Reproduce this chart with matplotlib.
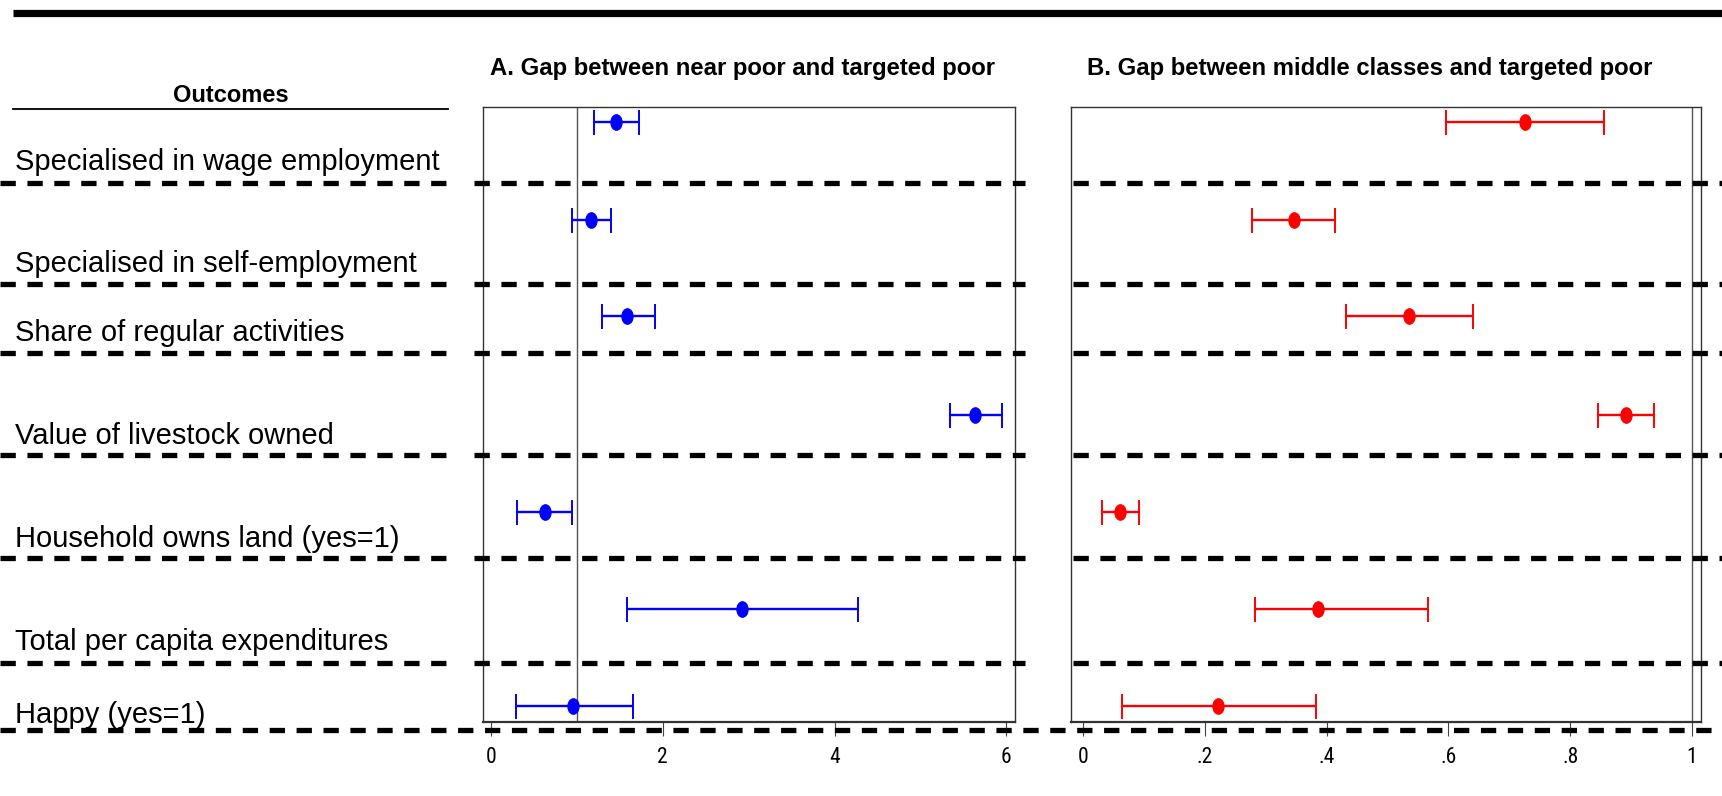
import numpy as np
import matplotlib
matplotlib.use("Agg")
import matplotlib.pyplot as plt
from matplotlib.path import Path
from matplotlib.transforms import Affine2D
from matplotlib import font_manager

plt.rcParams['font.family'] = ['Liberation Sans', 'DejaVu Sans']

outcomes = ["Specialised in wage employment",
            "Specialised in self-employment",
            "Share of regular activities",
            "Value of livestock owned",
            "Household owns land (yes=1)",
            "Total per capita expenditures",
            "Happy (yes=1)"]

# A: near poor vs targeted poor
near_est = [1.46, 1.17, 1.59, 5.64, 0.63, 2.92, 0.96]
near_lo = [1.20, 0.94, 1.30, 5.34, 0.30, 1.58, 0.29]
near_hi = [1.73, 1.40, 1.91, 5.95, 0.95, 4.27, 1.65]

# B: middle classes vs targeted poor
mid_est = [0.726, 0.346, 0.535, 0.892, 0.061, 0.386, 0.222]
mid_lo = [0.596, 0.277, 0.432, 0.845, 0.031, 0.283, 0.063]
mid_hi = [0.856, 0.414, 0.640, 0.937, 0.092, 0.566, 0.382]

ticks_a = [0, 2, 4, 6]
ticklabels_a = ["0", "2", "4", "6"]
ticks_b = [0, 0.2, 0.4, 0.6, 0.8, 1]
ticklabels_b = ["0", ".2", ".4", ".6", ".8", "1"]

# layout, in figure pixels (top = 0)
W, H = 1722, 796
row_y = [122, 220, 316, 415, 512, 609, 706]
label_y = [162, 264, 333, 436, 539, 642, 715]
sep_y = [183, 284, 352.5, 454.6, 558, 663]
bottom_y = 730
box_top, box_bot = 106.5, 722

fig = plt.figure(figsize=(W / 100, H / 100), dpi=100)

bg = fig.add_axes([0, 0, 1, 1])
bg.set_xlim(0, W)
bg.set_ylim(H, 0)
bg.axis('off')


def panel(x0, x1):
    return fig.add_axes([x0 / W, 1 - box_bot / H, (x1 - x0) / W, (box_bot - box_top) / H])


# vertical ellipse marker
ell = Path.unit_circle().transformed(Affine2D().scale(0.72, 1.0))

# condensed face for the axis numbers if one is around
names = {f.name for f in font_manager.fontManager.ttflist}
narrow = [n for n in ['Liberation Sans Narrow', 'Roboto Condensed', 'Open Sans Condensed']
          if n in names] + ['Liberation Sans', 'DejaVu Sans']


def draw_panel(ax, est, lo, hi, color, xlim, ticks, labels):
    est = np.array(est)
    err = [est - np.array(lo), np.array(hi) - est]
    ax.errorbar(est, row_y, xerr=err, fmt='none', ecolor=color, elinewidth=1.7,
                capsize=9, capthick=1.4, zorder=3)
    ax.plot(est, row_y, ls='none', marker=ell, ms=11, color=color, zorder=4)
    ax.axvline(1, color='#555555', lw=1.0, zorder=2)
    ax.set_xlim(*xlim)
    ax.set_ylim(box_bot, box_top)
    ax.set_yticks([])
    ax.set_xticks(ticks)
    ax.set_xticklabels(labels, family=narrow, fontsize=15.5)
    ax.tick_params(axis='x', direction='out', length=10, width=0.8, pad=8, color='#444444')
    for s in ax.spines.values():
        s.set_linewidth(1.0)
        s.set_color('#333333')
    ax.spines['bottom'].set_linewidth(1.6)


axA = panel(483, 1015)
draw_panel(axA, near_est, near_lo, near_hi, '#0000ff', (-0.09, 6.1), ticks_a, ticklabels_a)
axB = panel(1071, 1701)
draw_panel(axB, mid_est, mid_lo, mid_hi, '#ff0000', (-0.02, 1.015), ticks_b, ticklabels_b)

# headers
bg.plot([13, W], [13, 13], color='black', lw=5.2, solid_capstyle='butt')
bg.text(231, 96, "Outcomes", ha='center', va='center', fontsize=17, fontweight='bold')
bg.plot([13, 448], [109, 109], color='black', lw=1.3)
bg.text(743, 69, "A. Gap between near poor and targeted poor", ha='center', va='center',
        fontsize=17.2, fontweight='bold')
bg.text(1370, 69, "B. Gap between middle classes and targeted poor", ha='center', va='center',
        fontsize=17.2, fontweight='bold')

for name, y in zip(outcomes, label_y):
    bg.text(15, y, name, ha='left', va='center', fontsize=21)

# dashed row separators drawn over everything
ov = fig.add_axes([0, 0, 1, 1], zorder=10)
ov.set_xlim(0, W)
ov.set_ylim(H, 0)
ov.axis('off')
ov.patch.set_visible(False)
dash = dict(color='black', lw=3.8, ls=(0, (2.9, 2.2)), dash_capstyle='butt')
for y in sep_y:
    for x0, x1 in [(0, 446), (474, 1025), (1073, W)]:
        ov.plot([x0, x1], [y, y], **dash)
ov.plot([0, W], [bottom_y, bottom_y], **dash)

fig.savefig("out.png", dpi=100)
